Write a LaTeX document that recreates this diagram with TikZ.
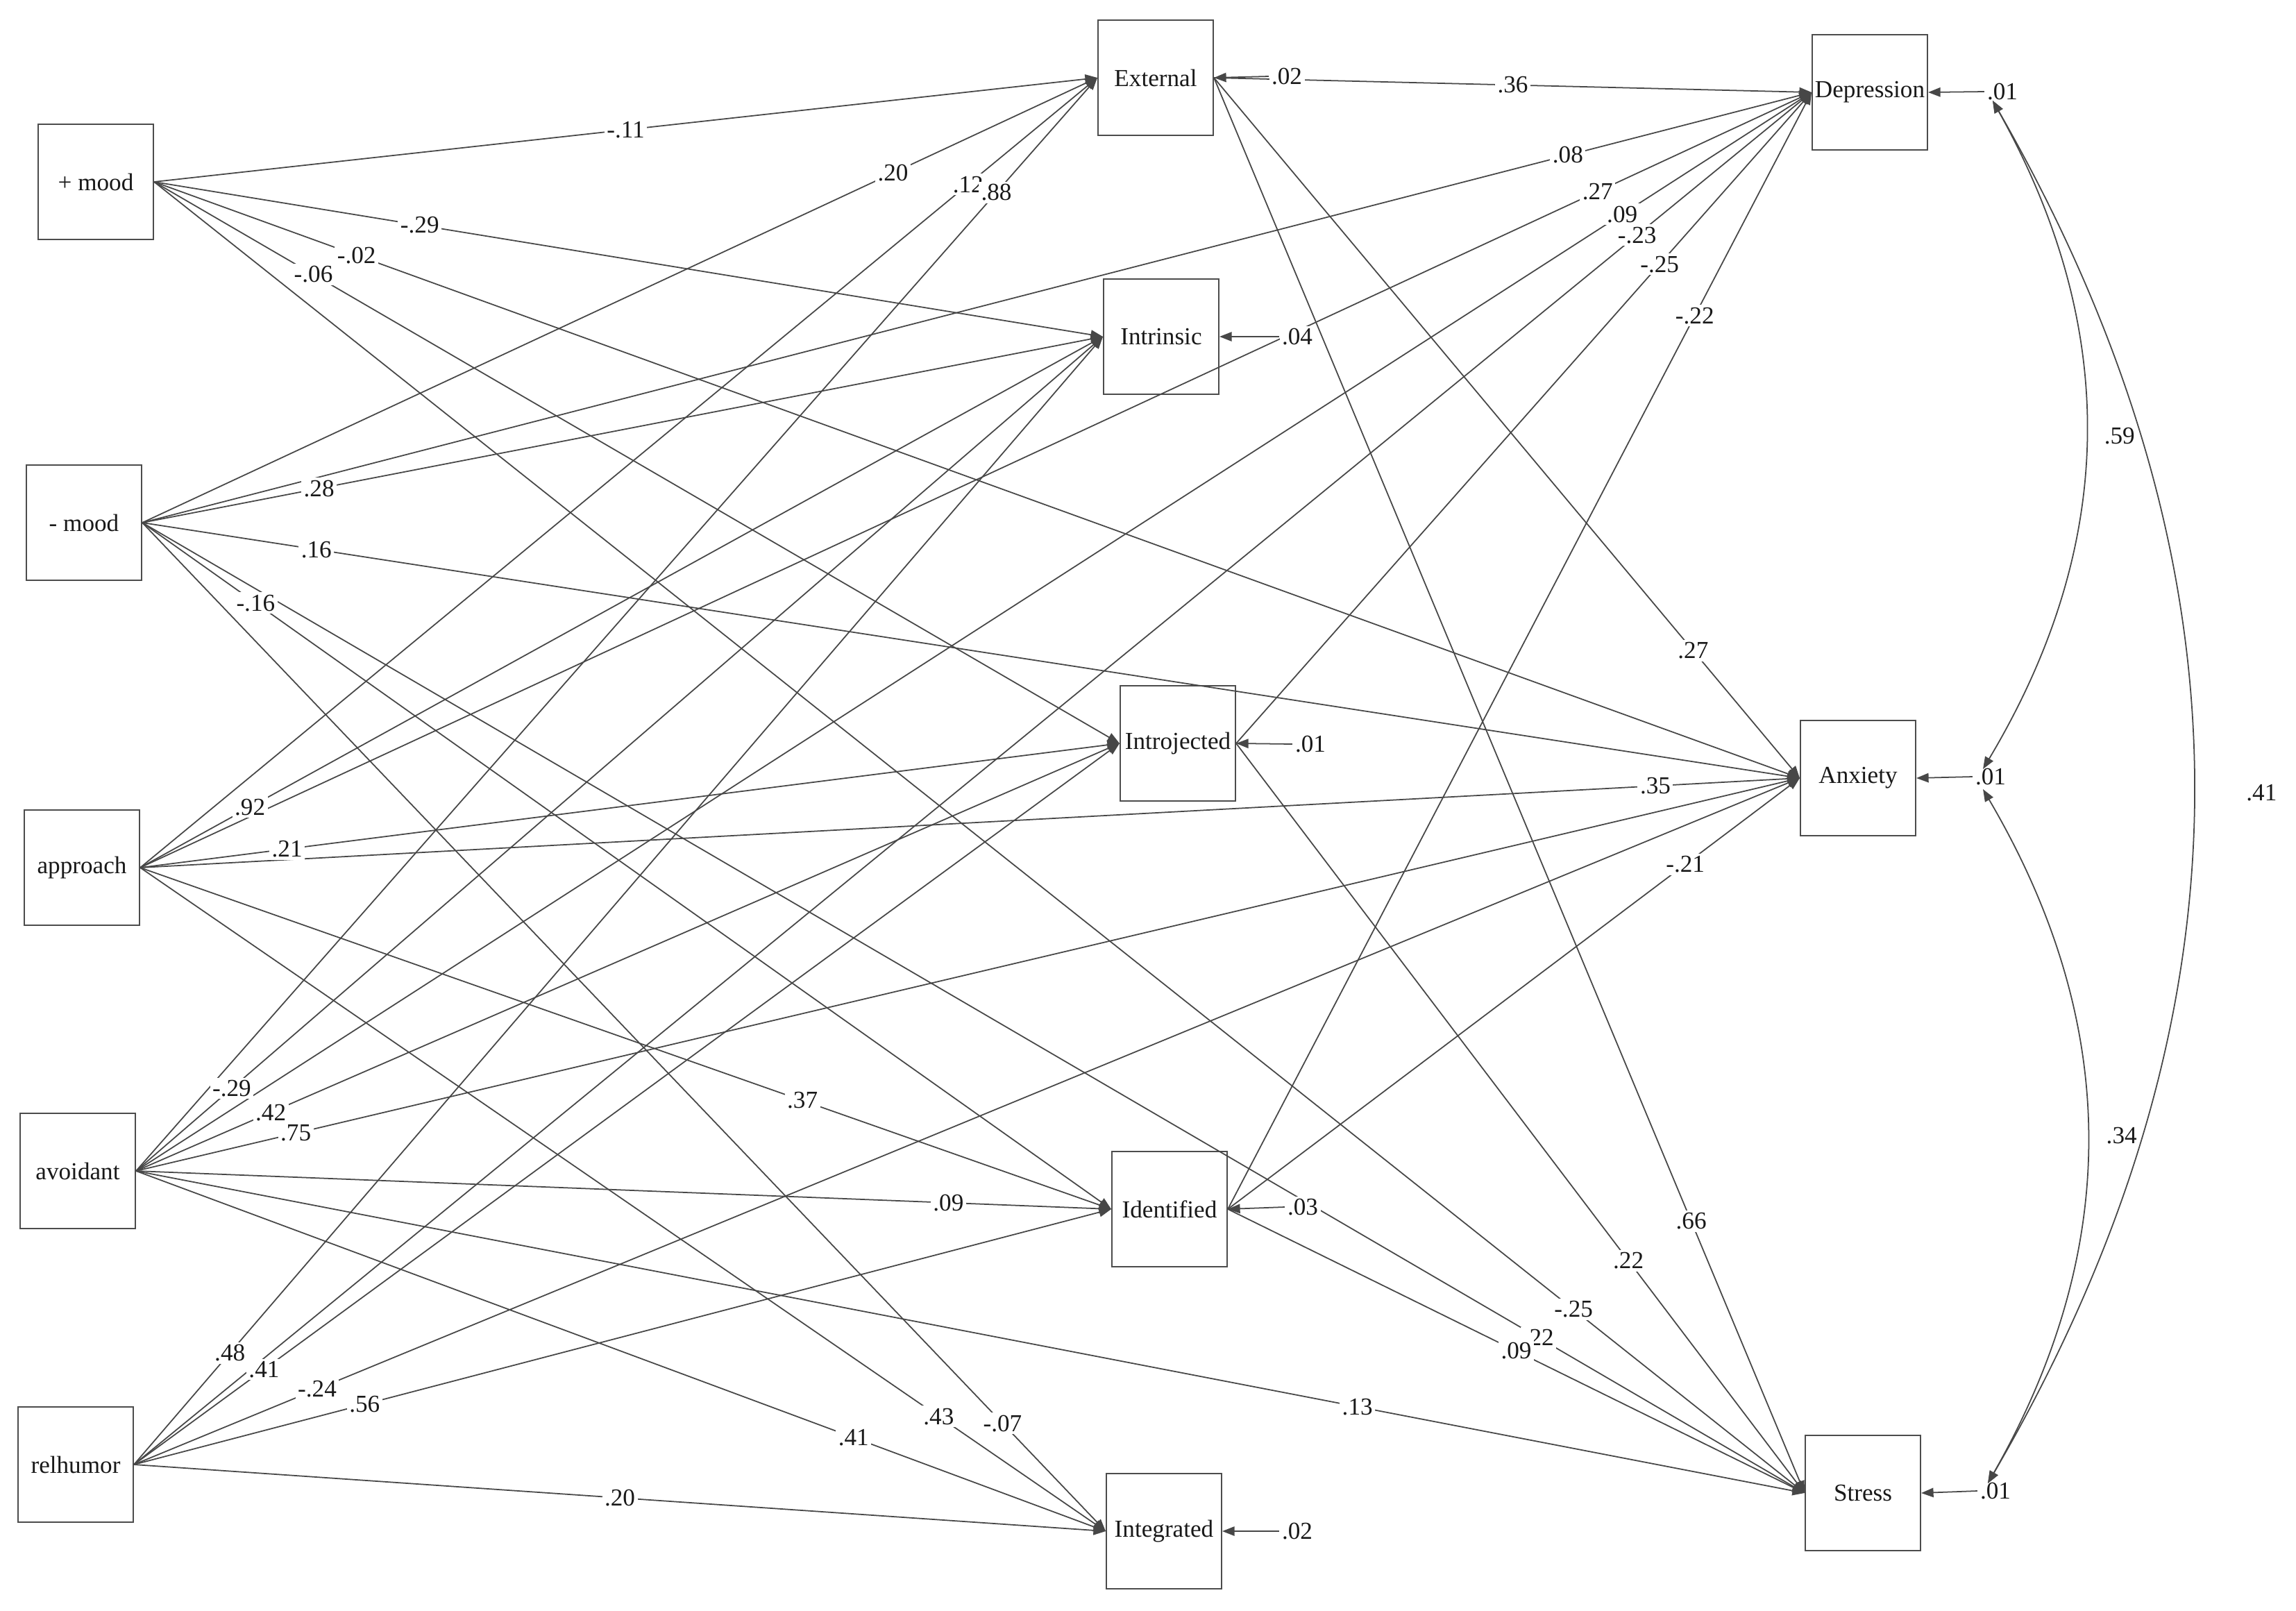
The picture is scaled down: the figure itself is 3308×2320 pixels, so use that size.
\documentclass[tikz,border=0pt]{standalone}
\usepackage{fontspec}
\setmainfont{Liberation Serif}
\usetikzlibrary{arrows.meta}
\begin{document}
\begin{tikzpicture}[x=0.01cm,y=-0.01cm]
\tikzset{
  var/.style={draw=black!70, line width=0.55pt, minimum width=1.66cm, minimum height=1.66cm, inner sep=0pt, font=\fontsize{10}{12}\selectfont, text=black!90},
  pth/.style={draw=black!72, line width=0.5pt, -{Triangle[length=5pt,width=3.8pt]}},
  cov/.style={draw=black!72, line width=0.5pt, {Triangle[length=5pt,width=3.8pt]}-{Triangle[length=5pt,width=3.8pt]}},
  coef/.style={fill=white, inner sep=1pt, font=\fontsize{10}{12}\selectfont, text=black!90},
  coefnb/.style={inner sep=1pt, font=\fontsize{10}{12}\selectfont, text=black!90}
}
\fill[white] (0,0) rectangle (3308,2320);
\useasboundingbox (0,0) rectangle (3308,2320);
% predictors
\node[var] (PM) at (138,262) {+ mood};
\node[var] (NM) at (121,753) {- mood};
\node[var] (AP) at (118,1250) {approach};
\node[var] (AV) at (112,1687) {avoidant};
\node[var] (RH) at (109,2110) {relhumor};
% mediators
\node[var] (EX) at (1665,112) {External};
\node[var] (IN) at (1673,485) {Intrinsic};
\node[var] (IJ) at (1697,1071) {Introjected};
\node[var] (ID) at (1685,1742) {Identified};
\node[var] (IG) at (1677,2206) {Integrated};
% outcomes
\node[var] (DE) at (2694,133) {Depression};
\node[var] (AN) at (2677,1121) {Anxiety};
\node[var] (ST) at (2684,2151) {Stress};

\def\edges{PM/EX/0.50/-.11, PM/IN/0.28/-.29, PM/AN/0.123/-.02, PM/IJ/0.165/-.06, PM/ST/0.86/-.25,
NM/EX/0.786/.20, NM/IN/0.184/.28, NM/DE/0.854/.08, NM/AN/0.105/.16, NM/ID/0.117/-.16, NM/IG/0.893/-.07, NM/ST/0.84/.22,
AP/EX/0.865/.12, AP/IN/0.114/.92, AP/DE/0.872/.27, AP/IJ/0.15/.21, AP/AN/0.913/.35, AP/ID/0.682/.37, AP/IG/0.827/.43,
AV/EX/0.895/.88, AV/IN/0.099/-.29, AV/IJ/0.137/.42, AV/DE/0.887/.09, AV/AN/0.096/.75, AV/ID/0.833/.09, AV/ST/0.732/.13, AV/IG/0.74/.41,
RH/IN/0.099/.48, RH/DE/0.896/-.23, RH/IJ/0.132/.41, RH/AN/0.11/-.24, RH/ID/0.236/.56, RH/IG/0.50/.20,
EX/DE/0.50/.36, EX/AN/0.818/.27, EX/ST/0.808/.66,
IJ/DE/0.736/-.25, IJ/ST/0.69/.22,
ID/DE/0.80/-.22, ID/AN/0.80/-.21, ID/ST/0.50/.09}

\foreach \s/\t/\p/\l in \edges {\draw[pth] (\s.east) -- (\t.west);}

% error terms
\node[coef] (eEX) at (1854,110) {.02};
\node[coef] (eIN) at (1869,485) {.04};
\node[coef] (eIJ) at (1888,1072) {.01};
\node[coef] (eID) at (1877,1739) {.03};
\node[coef] (eIG) at (1869,2206) {.02};
\node[coefnb] (eDE) at (2885,132) {.01};
\node[coefnb] (eAN) at (2868,1119) {.01};
\node[coefnb] (eST) at (2875,2148) {.01};
\foreach \e/\v in {eEX/EX, eIN/IN, eIJ/IJ, eID/ID, eIG/IG, eDE/DE, eAN/AN, eST/ST}
  {\draw[pth] (\e.west) -- (\v.east);}

\foreach \s/\t/\p/\l in \edges {\path (\s.east) -- node[coef,pos=\p] {\l} (\t.west);}

% covariances among outcome errors
\coordinate (cDE) at (2871,145);
\coordinate (cANa) at (2857,1108);
\coordinate (cANb) at (2857,1137);
\coordinate (cST) at (2864,2137);
\draw[cov] (cDE) to[bend left=30] node[coefnb, midway, anchor=west, xshift=0.22cm] {.59} (cANa);
\draw[cov] (cANb) to[bend left=30] node[coefnb, midway, anchor=west, xshift=0.23cm] {.34} (cST);
\draw[cov] (cDE) to[bend left=30] node[coefnb, midway, anchor=west, xshift=0.72cm] {.41} (cST);
\end{tikzpicture}
\end{document}
